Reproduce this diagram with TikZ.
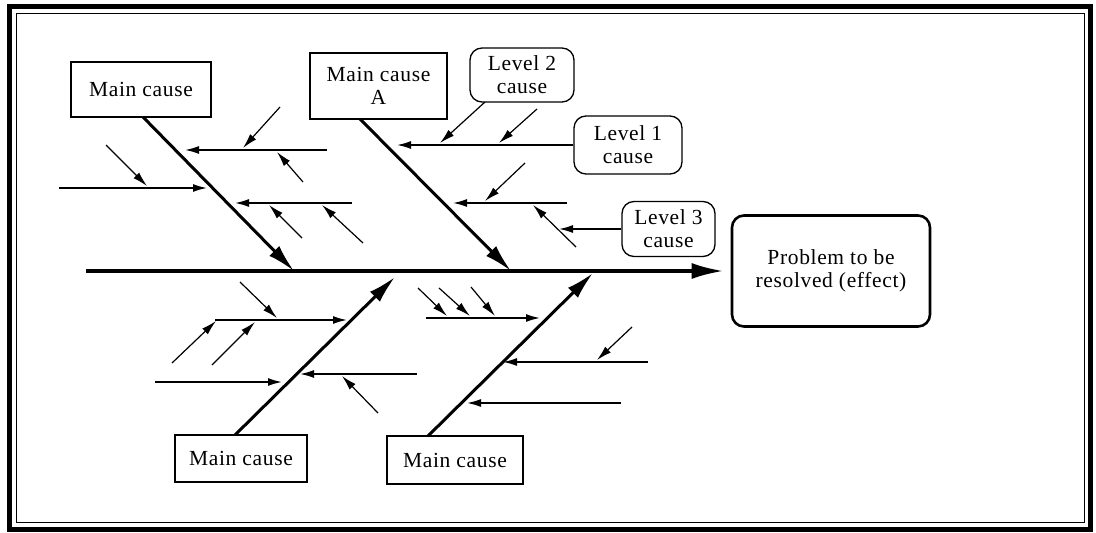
\documentclass[tikz,border=0pt]{standalone}
\usepackage{fontspec}
\setmainfont[LetterSpace=3]{Liberation Serif}
\usetikzlibrary{arrows.meta}
\begin{document}
\begin{tikzpicture}[x=1pt,y=-1pt,
  txt/.style={font=\fontsize{21.5}{23}\selectfont},
  mainbox/.style={draw,line width=1.3pt,inner sep=0pt,align=center,txt},
  levelbox/.style={mainbox,rounded corners=12pt},
  effbox/.style={draw,line width=2.6pt,rounded corners=12pt,inner sep=0pt,align=center,txt},
  spine/.style={line width=3.5pt,-{Latex[length=32pt,width=16pt]}},
  bone/.style={line width=3pt,-{Latex[length=28pt,width=14pt]}},
  branch/.style={line width=1.6pt,-{Latex[length=14pt,width=8pt]}},
  sub/.style={line width=1.2pt,-{Latex[length=15pt,width=8pt]}}
]
\useasboundingbox (0,0) rectangle (1096,533);
% frame
\draw[line width=5pt] (9,6) rectangle (1090,529);
\draw[line width=1pt] (16,13) rectangle (1084,522);

% nodes
\node[mainbox,minimum width=140pt,minimum height=55pt] (mc1) at (141,89.5) {Main cause};
\node[mainbox,minimum width=137pt,minimum height=66pt] (mcA) at (378.5,86) {Main cause\\A};
\node[levelbox,minimum width=104pt,minimum height=54pt] (l2) at (522,75) {Level 2\\cause};
\node[levelbox,minimum width=108pt,minimum height=58pt] (l1) at (628,145) {Level 1\\cause};
\node[levelbox,minimum width=93pt,minimum height=55pt] (l3) at (668.5,229) {Level 3\\cause};
\node[effbox,minimum width=198pt,minimum height=111pt] (eff) at (831,271) {Problem to be\\resolved (effect)};
\node[mainbox,minimum width=132pt,minimum height=47pt] (mc3) at (241,458.5) {Main cause};
\node[mainbox,minimum width=136pt,minimum height=48pt] (mc4) at (455,460) {Main cause};

% spine
\coordinate (sL) at (86,271);
\draw[spine] (sL) -- ([xshift=-7pt]eff.west);

% bones
\coordinate (b1s) at (143,117); \coordinate (b1e) at (294,271);
\coordinate (bAs) at (360,119); \coordinate (bAe) at (511,271);
\coordinate (b3s) at (235,435); \coordinate (b3e) at (395,277);
\coordinate (b4s) at (428,436); \coordinate (b4e) at (593,273);
\draw[bone] (b1s) -- (b1e);
\draw[bone] (bAs) -- (bAe);
\draw[bone] (b3s) -- (b3e);
\draw[bone] (b4s) -- (b4e);

% top-left bone branches
\coordinate (t1a) at (327,150); \coordinate (t1b) at (185,150);
\coordinate (t1c) at (280,107); \coordinate (t1d) at (243,148);
\coordinate (t1e) at (303,182); \coordinate (t1f) at (277,152);
\coordinate (t2a) at (59,188);  \coordinate (t2b) at (207,188);
\coordinate (t2c) at (106,145); \coordinate (t2d) at (147,186);
\coordinate (t3a) at (352,203); \coordinate (t3b) at (235,203);
\coordinate (t3c) at (302,238); \coordinate (t3d) at (269,205);
\coordinate (t3e) at (363,243); \coordinate (t3f) at (322,205);
\draw[branch] (t1a) -- (t1b);
\draw[sub] (t1c) -- (t1d);
\draw[sub] (t1e) -- (t1f);
\draw[branch] (t2a) -- (t2b);
\draw[sub] (t2c) -- (t2d);
\draw[branch] (t3a) -- (t3b);
\draw[sub] (t3c) -- (t3d);
\draw[sub] (t3e) -- (t3f);

% bone A branches
\coordinate (a1b) at (397,145);
\coordinate (l2s) at (485,102); \coordinate (a1d) at (440,143);
\coordinate (a1e) at (537,109); \coordinate (a1f) at (499,143);
\coordinate (a2a) at (567,203); \coordinate (a2b) at (453,203);
\coordinate (a2c) at (525,163); \coordinate (a2d) at (485,201);
\coordinate (a2e) at (576,247); \coordinate (a2f) at (533,205);
\coordinate (a3b) at (559,229);
\draw[branch] (l1.west) -- (a1b);
\draw[sub] (l2s) -- (a1d);
\draw[sub] (a1e) -- (a1f);
\draw[branch] (a2a) -- (a2b);
\draw[sub] (a2c) -- (a2d);
\draw[sub] (a2e) -- (a2f);
\draw[branch] (l3.west) -- (a3b);

% bottom-left bone branches
\coordinate (c1a) at (215,320); \coordinate (c1b) at (347,320);
\coordinate (c1c) at (240,282); \coordinate (c1d) at (277,318);
\coordinate (c1e) at (172,363); \coordinate (c1f) at (216,321);
\coordinate (c1g) at (212,365); \coordinate (c1h) at (255,322);
\coordinate (c2a) at (155,382); \coordinate (c2b) at (282,382);
\coordinate (c3a) at (417,374); \coordinate (c3b) at (300,374);
\coordinate (c3c) at (378,413); \coordinate (c3d) at (342,376);
\draw[branch] (c1a) -- (c1b);
\draw[sub] (c1c) -- (c1d);
\draw[sub] (c1e) -- (c1f);
\draw[sub] (c1g) -- (c1h);
\draw[branch] (c2a) -- (c2b);
\draw[branch] (c3a) -- (c3b);
\draw[sub] (c3c) -- (c3d);

% bottom-right bone branches
\coordinate (d1a) at (426,318); \coordinate (d1b) at (540,318);
\coordinate (d1c) at (418,288); \coordinate (d1d) at (447,316);
\coordinate (d1e) at (439,288); \coordinate (d1f) at (470,316);
\coordinate (d1g) at (471,287); \coordinate (d1h) at (495,316);
\coordinate (d2a) at (648,362); \coordinate (d2b) at (503,362);
\coordinate (d2c) at (632,327); \coordinate (d2d) at (597,360);
\coordinate (d3a) at (621,403); \coordinate (d3b) at (467,403);
\draw[branch] (d1a) -- (d1b);
\draw[sub] (d1c) -- (d1d);
\draw[sub] (d1e) -- (d1f);
\draw[sub] (d1g) -- (d1h);
\draw[branch] (d2a) -- (d2b);
\draw[sub] (d2c) -- (d2d);
\draw[branch] (d3a) -- (d3b);
\end{tikzpicture}
\end{document}
